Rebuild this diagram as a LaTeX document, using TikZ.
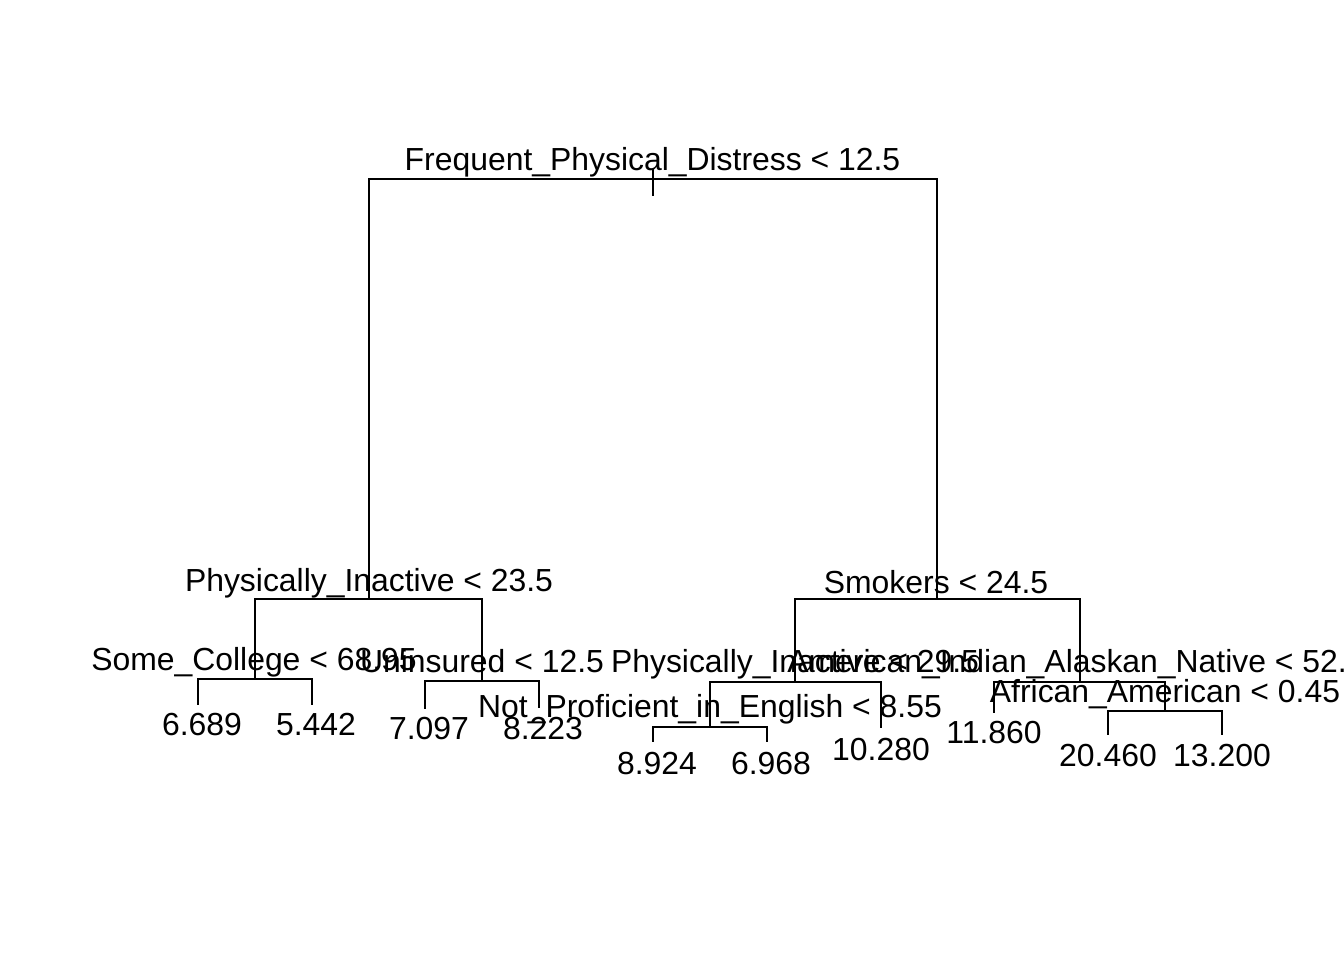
\documentclass[tikz,border=0pt]{standalone}
\usepackage{fontspec}
\setmainfont{Liberation Sans}
\begin{document}
\begin{tikzpicture}[x=1pt,y=-1pt,
  edge/.style={line width=1.6pt, line cap=rect},
  lbl/.style={anchor=base, inner sep=0pt, font=\fontsize{31.9}{36}\selectfont}]
\clip (0,0) rectangle (1344,960);
\fill[white] (0,0) rectangle (1344,960);
% node coordinates (split points)
\coordinate (root) at (653,179);
\coordinate (piA) at (369,599);
\coordinate (smk) at (937,599);
\coordinate (sc) at (255,679);
\coordinate (un) at (482,681);
\coordinate (piB) at (795,682);
\coordinate (ai) at (1080,682);
\coordinate (np) at (710,727);
\coordinate (aa) at (1165,711);
% leaves
\coordinate (l1) at (198,704);
\coordinate (l2) at (312,704);
\coordinate (l3) at (425,708);
\coordinate (l4) at (539,707);
\coordinate (l5) at (653,741);
\coordinate (l6) at (767,741);
\coordinate (l7) at (881,727);
\coordinate (l8) at (994,712);
\coordinate (l9) at (1108,734);
\coordinate (l10) at (1222,734);
% root tick
\draw[edge] (653,170) -- (653,195);
% edges: parent horizontal at parent's y, child vertical down
\draw[edge] (piA) |- (root) -| (smk);
\draw[edge] (sc) |- (piA) -| (un);
\draw[edge] (piB) |- (smk) -| (ai);
\draw[edge] (l1) |- (sc) -| (l2);
\draw[edge] (l3) |- (un) -| (l4);
\draw[edge] (np) |- (piB) -| (l7);
\draw[edge] (l5) |- (np) -| (l6);
\draw[edge] (l8) |- (ai) -| (aa);
\draw[edge] (l9) |- (aa) -| (l10);
% split labels
\node[lbl] (troot) at (652.5,170.5) {Frequent\_Physical\_Distress < 12.5};
\node[lbl] (tpiA) at (369,591) {Physically\_Inactive < 23.5};
\node[lbl] (tsmk) at (936,593) {Smokers < 24.5};
\node[lbl] (tsc) at (254,670) {Some\_College < 68.95};
\node[lbl] (tun) at (482,672) {Uninsured < 12.5};
\node[lbl] (tpiB) at (795,672) {Physically\_Inactive < 29.5};
\node[lbl] (tai) at (1076,672) {American\_Indian\_Alaskan\_Native < 52.7};
\node[lbl] (tnp) at (710,717) {Not\_Proficient\_in\_English < 8.55};
\node[lbl] (taa) at (1165,702) {African\_American < 0.45};
% leaf labels
\node[lbl] (t1) at (202,735) {6.689};
\node[lbl] (t2) at (316,735) {5.442};
\node[lbl] (t3) at (429,739) {7.097};
\node[lbl] (t4) at (543,739) {8.223};
\node[lbl] (t5) at (657,774) {8.924};
\node[lbl] (t6) at (771,774) {6.968};
\node[lbl] (t7) at (881,760) {10.280};
\node[lbl] (t8) at (994,743) {11.860};
\node[lbl] (t9) at (1108,766) {20.460};
\node[lbl] (t10) at (1222,766) {13.200};
\end{tikzpicture}
\end{document}
